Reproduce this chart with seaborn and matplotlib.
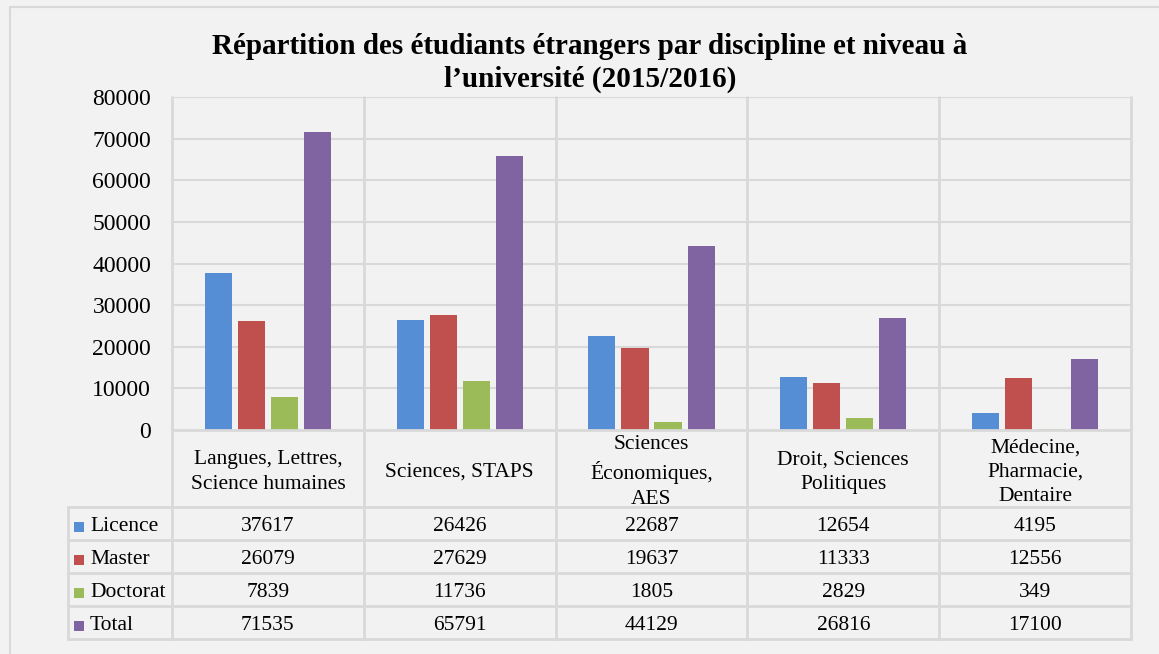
import pandas as pd
import matplotlib
matplotlib.use("Agg")
import matplotlib.pyplot as plt
import matplotlib.transforms as mtransforms
import seaborn as sns

# données
disciplines = ["Langues, Lettres,\nScience humaines", "Sciences, STAPS",
               "Sciences\nÉconomiques,\nAES", "Droit, Sciences\nPolitiques",
               "Médecine,\nPharmacie,\nDentaire"]
niveaux = ["Licence", "Master", "Doctorat", "Total"]
licence = [37617, 26426, 22687, 12654, 4195]
master = [26079, 27629, 19637, 11333, 12556]
doctorat = [7839, 11736, 1805, 2829, 349]
total = [71535, 65791, 44129, 26816, 17100]
couleurs = ["#558ED5", "#C0504D", "#9BBB59", "#8064A2"]

series = [licence, master, doctorat, total]
rows = []
for niv, vals in zip(niveaux, series):
    for d, v in zip(disciplines, vals):
        rows.append({"discipline": d, "niveau": niv, "effectif": v})
df = pd.DataFrame(rows)

sns.set_style("white")
plt.rcParams['font.family'] = ['Liberation Serif', 'DejaVu Serif']
plt.rcParams['text.color'] = 'black'
plt.rcParams['ytick.color'] = 'black'

W, H = 1159, 654
fig = plt.figure(figsize=(W / 100, H / 100), dpi=100, facecolor="#f2f2f2")
left, right, top, bottom = 172, 1131, 97, 430
ax = fig.add_axes([left / W, 1 - bottom / H, (right - left) / W, (bottom - top) / H])
ax.set_facecolor("#f2f2f2")

sns.barplot(data=df, x="discipline", y="effectif", hue="niveau", palette=couleurs,
            saturation=1, width=0.69, gap=0.18, linewidth=0, legend=False, ax=ax, zorder=3)

ax.set_xlim(-0.5, 4.5)
ax.set_ylim(0, 80000)
ax.set_yticks(range(0, 80001, 10000))
ax.tick_params(axis="y", labelsize=17, length=0, pad=15, labelcolor="black")
ax.set_xticks([])
ax.set_xlabel("")
ax.set_ylabel("")
for s in ax.spines.values():
    s.set_visible(False)

grid_c = "#d9d9d9"
for yv in range(10000, 80001, 10000):
    ax.axhline(yv, color=grid_c, lw=1.5, zorder=1)

# table sous le graphique
tr = mtransforms.blended_transform_factory(ax.transData, ax.transAxes)
def py(p):
    return (bottom - p) / (bottom - top)

row_y = [430, 507, 540, 573, 606, 639]
col_px = (right - left) / 5
x_first = -0.5 - (left - 68) / col_px

ax.plot([-0.5, 4.5], [py(430)] * 2, color=grid_c, lw=2, transform=tr, clip_on=False, zorder=4)
for yp in row_y[1:]:
    ax.plot([x_first, 4.5], [py(yp)] * 2, color=grid_c, lw=2, transform=tr, clip_on=False)
for xv in [-0.5, 0.5, 1.5, 2.5, 3.5, 4.5]:
    ax.plot([xv, xv], [py(97), py(639)], color=grid_c, lw=2, transform=tr, clip_on=False, zorder=2)
ax.plot([x_first, x_first], [py(507), py(639)], color=grid_c, lw=2, transform=tr, clip_on=False)

for i, d in enumerate(disciplines):
    ax.text(i, py(472), d, ha="center", va="center", fontsize=15.5, linespacing=1.38,
            transform=tr, clip_on=False)

x_sq = x_first + 11 / col_px
x_lab = x_first + 22 / col_px
for r, (niv, vals, c) in enumerate(zip(niveaux, series, couleurs)):
    yc = py((row_y[r + 1] + row_y[r + 2]) / 2 + 3)
    ax.plot([x_sq], [yc], marker="s", ms=6.5, mew=0, color=c, transform=tr, clip_on=False)
    ax.text(x_lab, yc, niv, ha="left", va="center", fontsize=15.5, transform=tr, clip_on=False)
    for i, v in enumerate(vals):
        ax.text(i, yc, str(v), ha="center", va="center", fontsize=15.5, transform=tr, clip_on=False)

fig.text(0.509, 1 - 63 / H,
         "Répartition des étudiants étrangers par discipline et niveau à\nl’université (2015/2016)",
         ha="center", va="center", fontsize=21, fontweight="bold", linespacing=1.25)

# cadre extérieur
fig.add_artist(plt.Rectangle((10 / W, -0.1), 1.2, 1.1 - 7 / H, transform=fig.transFigure,
                             fill=False, ec="#d9d9d9", lw=1.5))

fig.savefig("out.png", dpi=100, facecolor=fig.get_facecolor())
